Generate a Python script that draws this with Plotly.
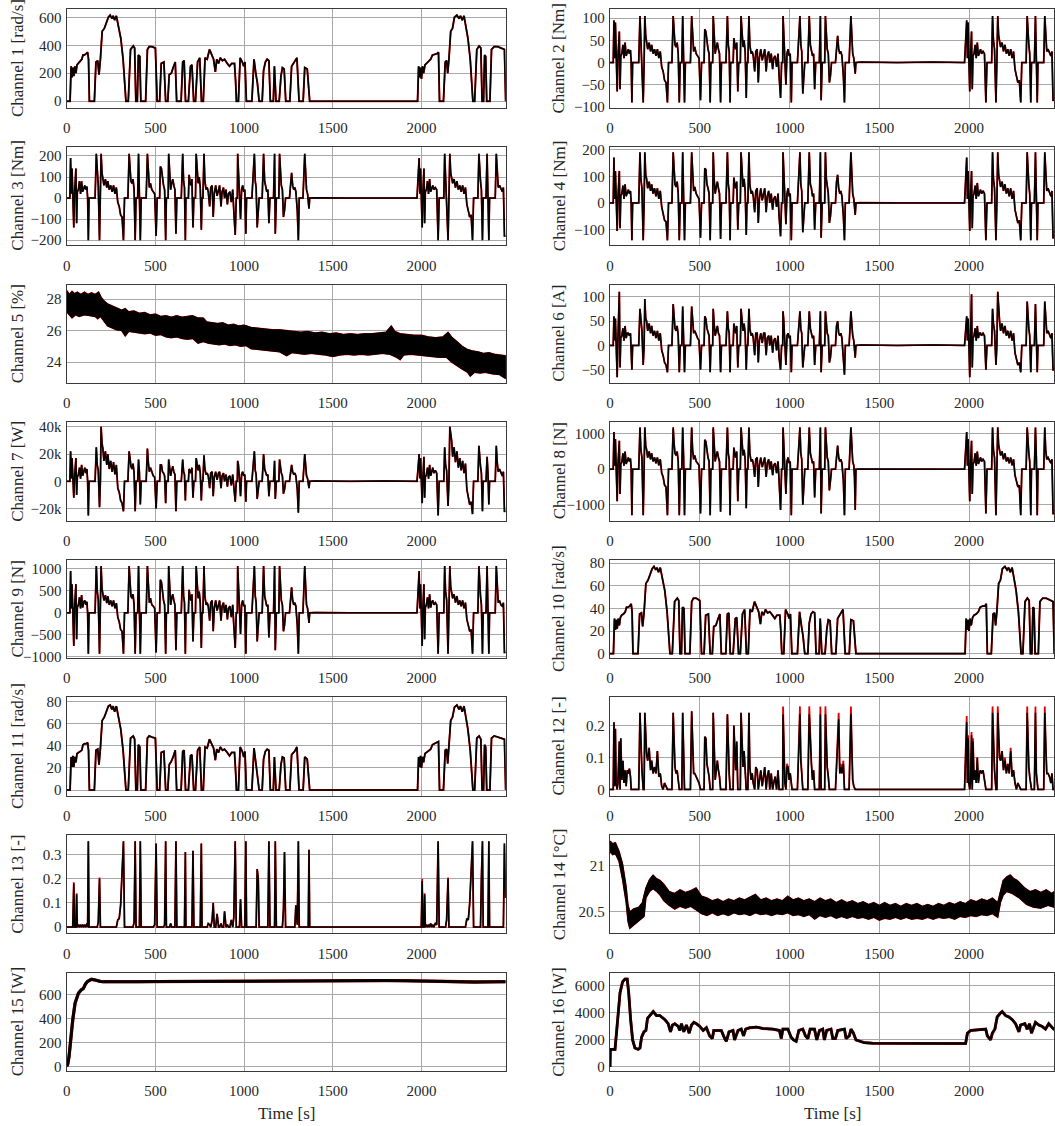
import plotly.graph_objects as go

# ---------------- shared time grid for torque/force-like channels ----------------
t_trq = [
    0, 18,
    22, 26, 30, 34, 40, 44, 52, 56, 60, 66, 72, 78, 84, 90, 96, 102, 108, 114, 118, 122, 126,
    160,
    167, 172, 178, 185, 190, 194, 199, 204, 210, 218, 226, 232, 240, 248, 256, 264, 272, 280, 288, 296, 304, 312, 320, 326,
    345,
    352, 357, 362, 368, 374, 380, 386, 391,
    400, 405, 410, 415, 420,
    448,
    455, 460, 466, 472, 480, 488, 496, 504, 510,
    524,
    528, 534, 540, 546, 552, 558, 562,
    572,
    575, 580, 586, 592, 598, 604, 610, 616, 621,
    646,
    654, 659, 664, 669, 672,
    686,
    690, 695, 700, 706, 712, 717,
    726,
    730, 735, 741, 747, 753, 759, 763,
    768,
    774, 779, 786, 792, 798, 806, 812, 820, 826, 832, 840, 848, 856, 862, 870, 876, 884, 890, 898, 906, 912, 920, 928, 936, 942, 950, 956,
    962,
    964, 968, 974, 980, 986, 992, 998, 1004, 1010, 1014,
    1044,
    1058, 1063, 1068, 1074, 1080, 1085,
    1102,
    1110, 1116, 1122, 1128, 1134, 1140, 1146,
    1166,
    1172, 1176, 1182,
    1196,
    1200, 1205, 1210, 1216, 1222, 1228, 1234,
    1256,
    1262, 1268, 1274, 1280, 1286, 1292, 1300, 1306, 1311,
    1332,
    1342, 1347, 1352, 1358, 1362, 1366, 1370,
    1400, 1600, 1800, 1975,
    1987, 1991, 1995, 1999, 2004, 2008, 2014, 2018, 2022, 2028, 2034, 2040, 2046, 2052, 2058, 2064, 2070, 2078, 2086, 2094, 2100,
    2126,
    2131, 2136, 2142, 2150, 2155, 2160, 2165, 2170, 2176, 2184, 2192, 2200, 2208, 2216, 2224, 2232, 2240, 2248, 2256, 2264, 2272, 2280, 2288, 2294,
    2318,
    2324, 2328, 2333, 2338, 2344, 2348,
    2364,
    2370, 2375, 2380, 2384,
    2416,
    2422, 2427, 2433, 2440, 2448, 2456, 2462, 2468, 2475,
]

ch2 = [
    0, 0,
    95, 10, 90, 20, -65, 10, 70, -60, 15, 20, 40, 10, 45, 15, 25, 30, 20, 28, 0, -90, 0,
    0,
    105, 50, 30, -90, 0, 105, 60, 50, 30, 45, 25, 40, 20, 30, 15, 30, 10, 25, -10, -20, -40, -45, -90, 0,
    0,
    105, 65, 40, 35, 45, 20, -90, 0,
    0, 105, 30, -90, 0,
    0,
    105, 50, 25, 35, 20, 15, 10, -85, 0,
    0,
    75, 70, 40, 30, 20, -90, 0,
    0,
    105, 50, 20, 35, 45, 30, 20, -90, 0,
    0,
    105, 40, 25, -90, 0,
    0,
    55, 40, 30, 45, -65, 0,
    0,
    105, 60, 35, 50, 25, -80, 0,
    0,
    105, 40, 20, 25, 15, -20, 25, 30, -45, 10, 30, 5, 25, 30, -20, 15, 25, 0, 20, -15, 10, 15, -10, 20, -30, -80, 0,
    0,
    105, 60, 10, -50, 20, 30, 15, 20, -90, 0,
    0,
    105, 40, 25, -70, -20, 0,
    0,
    105, 40, 30, 15, 20, -60, 0,
    0,
    105, -85, 0,
    0,
    105, 50, 30, 20, -45, -30, 0,
    0,
    45, 60, 30, 20, 25, 15, -30, -90, 0,
    0,
    105, 40, 20, 10, -20, -25, 0,
    1, 0, 1, 0,
    95, 10, 90, 10, -65, 10, 70, -60, 15, 20, 40, 10, 45, 15, 25, 30, 20, 25, 20, -90, 0,
    0,
    105, 50, 30, -90, 0, 105, 60, 50, 35, 45, 25, 40, 20, 30, 15, 30, 10, 25, -15, -30, -45, -40, -90, 0,
    0,
    105, 65, 40, 20, -90, 0,
    0,
    105, 30, -90, 0,
    0,
    105, 50, 25, 30, 20, 15, 25, -85, -85,
]

ch3 = [
    0, 0,
    190, 20, 140, 40, -140, 20, 140, -120, 30, 40, 80, 20, 80, 30, 50, 60, 40, 55, 0, -200, 0,
    0,
    210, 100, 60, -200, 0, 210, 120, 100, 60, 90, 50, 80, 40, 60, 30, 60, 20, 50, -20, -40, -80, -90, -200, 0,
    0,
    210, 130, 80, 70, 90, 40, -200, 0,
    0, 210, 60, -200, 0,
    0,
    210, 100, 50, 70, 40, 30, 20, -180, 0,
    0,
    150, 140, 80, 60, 40, -200, 0,
    0,
    210, 100, 40, 70, 90, 60, 40, -170, 0,
    0,
    210, 80, 50, -200, 0,
    0,
    110, 80, 60, 90, -140, 0,
    0,
    210, 120, 70, 100, 50, -150, 0,
    0,
    210, 80, 40, 50, 30, -40, 50, 60, -90, 20, 60, 10, 50, 60, -40, 30, 50, 0, 40, -30, 20, 30, -20, 40, -60, -175, 0,
    0,
    210, 120, 20, -100, 40, 60, 30, 40, -170, 0,
    0,
    210, 80, 50, -140, -40, 0,
    0,
    210, 80, 60, 30, 40, -120, 0,
    0,
    210, -170, 0,
    0,
    210, 100, 60, 40, -90, -60, 0,
    0,
    90, 120, 60, 40, 50, 30, -60, -200, 0,
    0,
    210, 80, 40, 20, -40, -50, 0,
    1, 0, 1, 0,
    190, 20, 140, 20, -140, 20, 140, -120, 30, 40, 80, 20, 90, 30, 50, 60, 40, 50, 40, -200, 0,
    0,
    210, 100, 60, -200, 0, 210, 120, 100, 70, 90, 50, 80, 40, 60, 30, 60, 20, 50, -30, -60, -90, -80, -200, 0,
    0,
    210, 130, 80, 40, -200, 0,
    0,
    210, 60, -200, 0,
    0,
    210, 100, 50, 60, 40, 30, 50, -180, -180,
]

ch4 = [
    0, 0,
    170, 15, 120, 35, -105, 15, 120, -95, 25, 35, 65, 15, 70, 25, 40, 50, 35, 45, 0, -140, 0,
    0,
    190, 90, 55, -140, 0, 190, 105, 90, 55, 80, 45, 70, 35, 55, 25, 55, 15, 45, -15, -35, -65, -70, -140, 0,
    0,
    190, 115, 70, 60, 80, 35, -140, 0,
    0, 190, 55, -140, 0,
    0,
    190, 90, 45, 60, 35, 25, 15, -130, 0,
    0,
    130, 125, 70, 55, 35, -140, 0,
    0,
    190, 90, 35, 60, 80, 55, 35, -135, 0,
    0,
    190, 70, 45, -140, 0,
    0,
    95, 70, 55, 80, -100, 0,
    0,
    190, 105, 60, 90, 45, -120, 0,
    0,
    190, 70, 35, 45, 25, -35, 45, 55, -75, 15, 55, 10, 45, 55, -35, 25, 45, 0, 35, -25, 15, 25, -15, 35, -50, -125, 0,
    0,
    190, 105, 15, -80, 35, 55, 25, 35, -140, 0,
    0,
    190, 70, 45, -110, -35, 0,
    0,
    190, 70, 55, 25, 35, -100, 0,
    0,
    190, -130, 0,
    0,
    190, 90, 55, 35, -75, -50, 0,
    0,
    80, 105, 55, 35, 45, 25, -50, -140, 0,
    0,
    190, 70, 35, 15, -35, -45, 0,
    1, 0, 1, 0,
    170, 15, 120, 15, -105, 15, 120, -95, 25, 35, 65, 15, 75, 25, 40, 50, 35, 45, 35, -140, 0,
    0,
    190, 90, 55, -140, 0, 190, 105, 90, 60, 80, 45, 70, 35, 55, 25, 55, 15, 45, -25, -50, -75, -65, -140, 0,
    0,
    190, 115, 70, 35, -140, 0,
    0,
    190, 55, -140, 0,
    0,
    190, 90, 45, 55, 35, 25, 45, -130, -130,
]

ch6 = [
    0, 0,
    60, 10, 55, 15, -65, 10, 110, -45, 15, 20, 35, 10, 40, 15, 25, 25, 20, 25, 0, -50, 0,
    0,
    75, 45, 30, -40, 0, 95, 55, 50, 30, 45, 25, 40, 20, 30, 15, 30, 10, 25, -10, -20, -35, -40, -55, 0,
    0,
    85, 55, 35, 30, 40, 20, -55, 0,
    0, 80, 30, -55, 0,
    0,
    80, 45, 25, 30, 20, 15, 10, -50, 0,
    0,
    60, 55, 35, 25, 20, -55, 0,
    0,
    75, 45, 20, 30, 40, 25, 20, -55, 0,
    0,
    70, 35, 25, -55, 0,
    0,
    45, 35, 25, 40, -45, 0,
    0,
    75, 50, 30, 45, 25, -50, 0,
    0,
    75, 35, 20, 25, 15, -20, 25, 25, -35, 10, 25, 5, 25, 25, -20, 15, 20, 0, 20, -15, 10, 15, -10, 20, -25, -50, 0,
    0,
    70, 50, 10, -40, 20, 25, 15, 20, -55, 0,
    0,
    70, 35, 25, -45, -20, 0,
    0,
    70, 35, 25, 15, 20, -40, 0,
    0,
    70, -55, 0,
    0,
    70, 45, 25, 20, -35, -25, 0,
    0,
    40, 50, 25, 20, 25, 15, -25, -60, 0,
    0,
    70, 35, 20, 10, -20, -25, 0,
    1, 0, 1, 0,
    60, 10, 55, 10, -65, 10, 105, -45, 15, 20, 35, 10, 40, 15, 25, 25, 20, 25, 20, -50, 0,
    0,
    75, 45, 30, -40, 0, 110, 60, 50, 30, 45, 25, 40, 20, 30, 15, 30, 10, 25, -15, -25, -40, -35, -55, 0,
    0,
    90, 55, 35, 20, -55, 0,
    0,
    85, 30, -55, 0,
    0,
    90, 45, 25, 30, 20, 15, 25, -50, -50,
]

ch7 = [
    0, 0,
    22000, 2000, 17000, 4000, -12000, 2000, 17000, -10000, 3000, 5000, 10000, 2000, 12000, 4000, 8000, 10000, 6000, 9000, 0, -25000, 0,
    0,
    25000, 12000, 8000, -19000, 0, 40000, 28000, 24000, 15000, 22000, 12000, 20000, 9000, 15000, 7000, 14000, 5000, 12000, -5000, -8000, -14000, -16000, -22000, 0,
    0,
    22000, 17000, 11000, 9000, 13000, 6000, -22000, 0,
    0, 16000, 6000, -17000, 0,
    0,
    24000, 14000, 7000, 10000, 6000, 4000, 3000, -20000, 0,
    0,
    12000, 12000, 7000, 6000, 4000, -16000, 0,
    0,
    16000, 10000, 4000, 8000, 11000, 7000, 5000, -22000, 0,
    0,
    16000, 7000, 5000, -14000, 0,
    0,
    9000, 8000, 6000, 10000, -12000, 0,
    0,
    17000, 12000, 8000, 12000, 6000, -14000, 0,
    0,
    19000, 9000, 5000, 6000, 4000, -5000, 6000, 7000, -11000, 3000, 7000, 1000, 6000, 7000, -5000, 4000, 6000, 0, 5000, -4000, 3000, 4000, -3000, 5000, -7000, -15000, 0,
    0,
    15000, 12000, 2000, -11000, 5000, 7000, 4000, 5000, -15000, 0,
    0,
    22000, 8000, 5000, -13000, -4000, 0,
    0,
    20000, 9000, 7000, 4000, 5000, -11000, 0,
    0,
    15000, -13000, 0,
    0,
    16000, 10000, 6000, 4000, -9000, -6000, 0,
    0,
    9000, 12000, 7000, 5000, 6000, 4000, -6000, -23000, 0,
    0,
    20000, 8000, 4000, 2000, -4000, -5000, 0,
    300, 0, 300, 0,
    20000, 2000, 17000, 2000, -16000, 2000, 18000, -12000, 3000, 5000, 10000, 2000, 12000, 4000, 8000, 10000, 6000, 8000, 6000, -25000, 0,
    0,
    25000, 12000, 8000, -18000, 0, 40000, 35000, 30000, 18000, 25000, 14000, 22000, 10000, 17000, 8000, 15000, 6000, 13000, -6000, -12000, -17000, -15000, -24000, 0,
    0,
    26000, 17000, 11000, 6000, -22000, 0,
    0,
    18000, 6000, -17000, 0,
    0,
    26000, 14000, 7000, 9000, 6000, 4000, 7000, -22000, -22000,
]

ch8 = [
    0, 0,
    1050, 100, 850, 200, -900, 100, 800, -700, 150, 200, 450, 100, 500, 150, 280, 330, 220, 300, 0, -1300, 0,
    0,
    1180, 550, 330, -1300, 0, 1180, 650, 550, 330, 500, 280, 450, 220, 330, 170, 330, 110, 280, -110, -220, -450, -500, -1300, 0,
    0,
    1180, 720, 450, 390, 500, 220, -1300, 0,
    0, 1180, 330, -1300, 0,
    0,
    1180, 550, 280, 390, 220, 170, 110, -1250, 0,
    0,
    830, 780, 450, 330, 220, -1300, 0,
    0,
    1180, 550, 220, 390, 500, 330, 220, -1200, 0,
    0,
    1180, 450, 280, -1300, 0,
    0,
    610, 450, 330, 500, -900, 0,
    0,
    1180, 670, 390, 550, 280, -1100, 0,
    0,
    1180, 450, 220, 280, 170, -220, 280, 330, -500, 110, 330, 60, 280, 330, -220, 170, 280, 0, 220, -170, 110, 170, -110, 220, -330, -1150, 0,
    0,
    1180, 670, 110, -700, 220, 330, 170, 220, -1300, 0,
    0,
    1180, 450, 280, -1000, -220, 0,
    0,
    1180, 450, 330, 170, 220, -800, 0,
    0,
    1180, -1250, 0,
    0,
    1180, 550, 330, 220, -600, -330, 0,
    0,
    500, 670, 330, 220, 280, 170, -330, -1300, 0,
    0,
    1180, 450, 220, 110, -220, -1150, 0,
    5, 0, 5, 0,
    1050, 100, 850, 100, -900, 100, 800, -700, 150, 200, 450, 100, 500, 150, 280, 330, 220, 280, 220, -1250, 0,
    0,
    1180, 550, 330, -1300, 0, 1180, 670, 550, 390, 500, 280, 450, 220, 330, 170, 330, 110, 280, -170, -330, -500, -450, -1300, 0,
    0,
    1180, 720, 450, 220, -1300, 0,
    0,
    1180, 330, -1300, 0,
    0,
    1180, 550, 280, 330, 220, 170, 280, -1250, -1250,
]

ch9 = [
    0, 0,
    950, 100, 650, 150, -750, 100, 650, -600, 120, 180, 350, 100, 400, 120, 250, 280, 180, 250, 0, -930, 0,
    0,
    1060, 500, 300, -930, 0, 1060, 550, 450, 280, 400, 220, 380, 180, 280, 150, 280, 100, 220, -100, -200, -380, -420, -930, 0,
    0,
    1060, 620, 380, 330, 420, 180, -930, 0,
    0, 1060, 280, -930, 0,
    0,
    1060, 480, 230, 330, 180, 150, 100, -900, 0,
    0,
    750, 700, 380, 280, 180, -930, 0,
    0,
    1060, 480, 180, 330, 420, 280, 180, -850, 0,
    0,
    1060, 380, 230, -930, 0,
    0,
    520, 380, 280, 420, -650, 0,
    0,
    1060, 580, 330, 480, 230, -800, 0,
    0,
    1060, 380, 180, 230, 150, -180, 230, 280, -420, 100, 280, 50, 230, 280, -180, 150, 230, 0, 180, -150, 100, 150, -100, 180, -280, -800, 0,
    0,
    1060, 580, 100, -480, 180, 280, 150, 180, -930, 0,
    0,
    1060, 380, 230, -650, -180, 0,
    0,
    1060, 380, 280, 150, 180, -560, 0,
    0,
    1060, -850, 0,
    0,
    1060, 480, 280, 180, -420, -280, 0,
    0,
    420, 580, 280, 180, 230, 150, -280, -930, 0,
    0,
    1060, 380, 180, 100, -180, -230, 0,
    5, 0, 5, 0,
    950, 100, 650, 100, -750, 100, 650, -600, 120, 180, 350, 100, 420, 120, 250, 280, 180, 230, 180, -930, 0,
    0,
    1060, 480, 300, -930, 0, 1060, 580, 480, 330, 420, 230, 380, 180, 280, 150, 280, 100, 230, -150, -280, -420, -380, -930, 0,
    0,
    1060, 620, 380, 180, -930, 0,
    0,
    1060, 280, -930, 0,
    0,
    1060, 480, 230, 280, 180, 150, 230, -900, -900,
]

ch12 = [
    0, 0,
    0.21, 0.01, 0.19, 0.02, 0, 0.02, 0.15, 0, 0.16, 0.03, 0.09, 0.02, 0.06, 0.01, 0.06, 0.05, 0.065, 0.04, 0, 0, 0,
    0,
    0.24, 0.11, 0.06, 0, 0, 0.24, 0.16, 0.11, 0.09, 0.13, 0.06, 0.09, 0.05, 0.07, 0.05, 0.12, 0.04, 0.05, 0.01, 0, 0.02, 0.01, 0, 0,
    0,
    0.24, 0.12, 0.07, 0.05, 0.06, 0.03, 0, 0,
    0, 0.24, 0.05, 0, 0,
    0,
    0.245, 0.15, 0.05, 0.05, 0.04, 0.03, 0.02, 0, 0,
    0,
    0.165, 0.16, 0.08, 0.06, 0.04, 0, 0,
    0,
    0.24, 0.12, 0.03, 0.06, 0.09, 0.06, 0.04, 0, 0,
    0,
    0.235, 0.09, 0.05, 0, 0,
    0,
    0.2, 0.09, 0.06, 0.15, 0, 0,
    0,
    0.24, 0.16, 0.07, 0.12, 0.05, 0, 0,
    0,
    0.24, 0.07, 0.03, 0.05, 0.02, 0, 0.07, 0.06, 0, 0.02, 0.06, 0.01, 0.05, 0.07, 0, 0.04, 0.06, 0, 0.05, 0, 0.02, 0.04, 0, 0.06, 0, 0, 0,
    0,
    0.235, 0.14, 0.02, 0, 0.07, 0.07, 0.03, 0.05, 0, 0,
    0,
    0.235, 0.09, 0.05, 0, 0, 0,
    0,
    0.235, 0.12, 0.08, 0.03, 0.06, 0, 0,
    0,
    0.235, 0, 0,
    0,
    0.235, 0.13, 0.07, 0.04, 0, 0, 0,
    0,
    0.07, 0.16, 0.22, 0.05, 0.07, 0.05, 0.08, 0, 0,
    0,
    0.235, 0.07, 0.03, 0.01, 0, 0, 0,
    0, 0, 0, 0,
    0.21, 0.02, 0.16, 0.02, 0, 0.02, 0.17, 0, 0.15, 0.03, 0.06, 0.02, 0.1, 0.02, 0.05, 0.06, 0.05, 0.06, 0.03, 0, 0,
    0,
    0.24, 0.12, 0.06, 0, 0, 0.24, 0.16, 0.1, 0.09, 0.12, 0.06, 0.09, 0.05, 0.08, 0.05, 0.12, 0.04, 0.06, 0.02, 0, 0.02, 0.01, 0, 0,
    0,
    0.24, 0.14, 0.07, 0.04, 0, 0,
    0,
    0.24, 0.05, 0, 0,
    0,
    0.24, 0.15, 0.05, 0.05, 0.04, 0.02, 0.05, 0, 0,
]

ch12_red = [
    0, 0,
    0.21, 0.01, 0.19, 0.02, 0, 0.02, 0.15, 0, 0.16, 0.03, 0.09, 0.02, 0.06, 0.01, 0.06, 0.05, 0.065, 0.04, 0, 0, 0,
    0,
    0.24, 0.11, 0.06, 0, 0, 0.24, 0.16, 0.11, 0.09, 0.13, 0.06, 0.09, 0.05, 0.07, 0.05, 0.12, 0.04, 0.05, 0.01, 0, 0.02, 0.01, 0, 0,
    0,
    0.24, 0.12, 0.07, 0.05, 0.06, 0.03, 0, 0,
    0, 0.24, 0.05, 0, 0,
    0,
    0.245, 0.15, 0.05, 0.05, 0.04, 0.03, 0.02, 0, 0,
    0,
    0.165, 0.16, 0.08, 0.06, 0.04, 0, 0,
    0,
    0.24, 0.12, 0.03, 0.06, 0.09, 0.06, 0.04, 0, 0,
    0,
    0.235, 0.09, 0.05, 0, 0,
    0,
    0.2, 0.09, 0.06, 0.15, 0, 0,
    0,
    0.24, 0.16, 0.07, 0.12, 0.05, 0, 0,
    0,
    0.24, 0.07, 0.03, 0.05, 0.02, 0, 0.07, 0.06, 0, 0.02, 0.06, 0.01, 0.05, 0.07, 0, 0.04, 0.06, 0, 0.05, 0, 0.02, 0.04, 0, 0.06, 0, 0, 0,
    0,
    0.26, 0.15, 0.02, 0, 0.08, 0.07, 0.03, 0.05, 0, 0,
    0,
    0.26, 0.1, 0.05, 0, 0, 0,
    0,
    0.26, 0.13, 0.08, 0.03, 0.06, 0, 0,
    0,
    0.26, 0, 0,
    0,
    0.26, 0.14, 0.07, 0.04, 0, 0, 0,
    0,
    0.08, 0.18, 0.24, 0.05, 0.08, 0.05, 0.09, 0, 0,
    0,
    0.26, 0.07, 0.03, 0.01, 0, 0, 0,
    0, 0, 0, 0,
    0.23, 0.02, 0.17, 0.02, 0, 0.02, 0.18, 0, 0.16, 0.03, 0.06, 0.02, 0.1, 0.02, 0.05, 0.06, 0.05, 0.06, 0.03, 0, 0,
    0,
    0.26, 0.13, 0.06, 0, 0, 0.26, 0.17, 0.1, 0.09, 0.12, 0.06, 0.1, 0.05, 0.08, 0.05, 0.13, 0.04, 0.06, 0.02, 0, 0.02, 0.01, 0, 0,
    0,
    0.26, 0.15, 0.07, 0.04, 0, 0,
    0,
    0.26, 0.05, 0, 0,
    0,
    0.26, 0.15, 0.05, 0.05, 0.04, 0.02, 0.05, 0, 0,
]

ch13 = [
    0, 0,
    0, 0, 0, 0, 0.18, 0, 0, 0.135, 0, 0.01, 0, 0.01, 0, 0.01, 0, 0.01, 0, 0.015, 0, 0.355, 0,
    0,
    0, 0, 0.02, 0.2, 0, 0, 0, 0, 0, 0, 0, 0, 0, 0, 0, 0, 0, 0, 0.03, 0.035, 0.09, 0.2, 0.355, 0,
    0,
    0, 0, 0, 0, 0, 0.02, 0.355, 0,
    0, 0, 0, 0.355, 0,
    0,
    0, 0, 0, 0, 0, 0, 0.01, 0.345, 0,
    0,
    0, 0, 0, 0, 0.01, 0.355, 0,
    0,
    0, 0, 0.015, 0, 0, 0, 0, 0.355, 0,
    0,
    0, 0, 0, 0.31, 0,
    0,
    0, 0, 0, 0, 0.315, 0,
    0,
    0, 0, 0, 0, 0, 0.345, 0,
    0,
    0, 0, 0, 0, 0.015, 0.01, 0, 0.03, 0.1, 0, 0, 0.055, 0, 0, 0.015, 0, 0, 0.065, 0, 0.01, 0, 0, 0.03, 0, 0.04, 0.355, 0,
    0,
    0, 0, 0, 0.115, 0, 0, 0, 0, 0.355, 0,
    0,
    0, 0, 0, 0.24, 0.2, 0,
    0,
    0, 0, 0, 0, 0, 0.355, 0,
    0,
    0, 0.355, 0,
    0,
    0, 0, 0, 0, 0.07, 0.31, 0,
    0,
    0, 0, 0, 0, 0, 0.09, 0.01, 0.355, 0,
    0,
    0, 0, 0, 0, 0, 0.32, 0,
    0, 0, 0, 0,
    0, 0, 0, 0, 0.19, 0, 0, 0.135, 0, 0.01, 0, 0.01, 0, 0.015, 0, 0.01, 0, 0.015, 0.01, 0.355, 0,
    0,
    0, 0, 0.03, 0.2, 0, 0, 0, 0, 0, 0, 0, 0, 0, 0, 0, 0, 0, 0, 0.035, 0.03, 0.095, 0.2, 0.355, 0,
    0,
    0, 0, 0, 0.2, 0.355, 0,
    0,
    0, 0, 0.355, 0,
    0,
    0, 0, 0, 0, 0, 0, 0, 0.345, 0.12,
]

ch13_red = [
    0, 0,
    0, 0, 0, 0, 0.185, 0, 0, 0.14, 0, 0.01, 0, 0.01, 0, 0.01, 0, 0.01, 0, 0.015, 0, 0.355, 0,
    0,
    0, 0, 0.02, 0.205, 0, 0, 0, 0, 0, 0, 0, 0, 0, 0, 0, 0, 0, 0, 0.03, 0.035, 0.09, 0.2, 0.355, 0,
    0,
    0, 0, 0, 0, 0, 0.02, 0.355, 0,
    0, 0, 0, 0.355, 0,
    0,
    0, 0, 0, 0, 0, 0, 0.01, 0.345, 0,
    0,
    0, 0, 0, 0, 0.01, 0.355, 0,
    0,
    0, 0, 0.015, 0, 0, 0, 0, 0.355, 0,
    0,
    0, 0, 0, 0.31, 0,
    0,
    0, 0, 0, 0, 0.315, 0,
    0,
    0, 0, 0, 0, 0, 0.345, 0,
    0,
    0, 0, 0, 0, 0.015, 0.01, 0, 0.03, 0.1, 0, 0, 0.055, 0, 0, 0.015, 0, 0, 0.065, 0, 0.01, 0, 0, 0.03, 0, 0.04, 0.355, 0,
    0,
    0, 0, 0, 0.115, 0, 0, 0, 0, 0.355, 0,
    0,
    0, 0, 0, 0.24, 0.2, 0,
    0,
    0, 0, 0, 0, 0, 0.355, 0,
    0,
    0, 0.355, 0,
    0,
    0, 0, 0, 0, 0.07, 0.31, 0,
    0,
    0, 0, 0, 0, 0, 0.09, 0.01, 0.355, 0,
    0,
    0, 0, 0, 0, 0, 0.32, 0,
    0, 0, 0, 0,
    0, 0, 0, 0, 0.2, 0, 0, 0.14, 0, 0.01, 0, 0.01, 0, 0.015, 0, 0.01, 0, 0.015, 0.01, 0.355, 0,
    0,
    0, 0, 0.03, 0.205, 0, 0, 0, 0, 0, 0, 0, 0, 0, 0, 0, 0, 0, 0, 0.035, 0.03, 0.1, 0.205, 0.355, 0,
    0,
    0, 0, 0, 0.205, 0.355, 0,
    0,
    0, 0, 0.355, 0,
    0,
    0, 0, 0, 0, 0, 0, 0, 0.345, 0.12,
]

# ---------------- speed channels ----------------
t_spd = [
    0, 19, 25, 30, 35, 40, 46, 52, 58, 65, 75, 85, 92, 100, 110, 118, 123, 128,
    156, 165, 175, 182, 190, 200, 212, 225, 235, 245, 255, 262, 270, 280, 292, 305, 318, 334,
    347, 360, 375, 383, 390,
    398, 404, 412, 418,
    445, 455, 465, 480, 500, 510,
    524, 533, 548, 558,
    570, 578, 590, 600, 612, 620,
    645, 654, 662, 670,
    686, 698, 706, 716,
    726, 738, 750, 760,
    770, 780, 792, 805, 815, 828, 838, 846, 856, 866, 878, 890, 905, 918, 930, 946, 952, 957,
    968, 978, 990, 998, 1005, 1013,
    1044, 1056, 1066, 1075, 1085,
    1102, 1110, 1120, 1130, 1140, 1148,
    1165, 1171, 1180,
    1198, 1208, 1216, 1226, 1235,
    1258, 1268, 1285, 1298, 1310,
    1333, 1342, 1356, 1370,
    1978, 1984, 1990, 1995, 2000, 2006, 2012, 2020, 2028, 2040, 2052, 2062, 2075, 2088, 2096, 2102,
    2124, 2134, 2142, 2148, 2155, 2165, 2175, 2186, 2200, 2212, 2220, 2230, 2240, 2250, 2262, 2275, 2290,
    2300, 2312, 2325, 2335, 2342,
    2350, 2356, 2362, 2368,
    2386, 2395, 2410, 2430, 2455, 2468, 2475,
]

ch1 = [
    0, 0, 250, 170, 240, 180, 250, 200, 260, 270, 280, 300, 330, 330, 340, 350, 300, 0,
    0, 280, 290, 190, 300, 500, 520, 560, 600, 615, 590, 610, 580, 610, 540, 450, 300, 0,
    0, 370, 395, 380, 0,
    0, 330, 320, 0,
    0, 370, 390, 390, 380, 0,
    0, 270, 280, 0,
    0, 190, 200, 240, 280, 0,
    0, 280, 290, 0,
    0, 250, 260, 0,
    0, 280, 310, 0,
    0, 310, 300, 370, 340, 300, 210, 300, 270, 310, 290, 300, 270, 250, 270, 270, 150, 0,
    0, 310, 280, 250, 280, 0,
    0, 300, 200, 130, 0,
    0, 220, 280, 300, 290, 0,
    0, 250, 0,
    0, 180, 240, 230, 0,
    0, 250, 280, 310, 0,
    0, 240, 230, 0,
    0, 250, 170, 240, 160, 250, 200, 260, 270, 280, 300, 330, 335, 340, 350, 0,
    0, 280, 290, 200, 300, 500, 520, 600, 615, 590, 610, 580, 610, 540, 450, 300, 0,
    0, 370, 395, 380, 0,
    0, 330, 320, 0,
    0, 370, 390, 390, 380, 370, 0,
]

ch10 = [
    0, 0, 31, 21, 30, 22, 31, 25, 32, 34, 35, 37, 41, 41, 42, 44, 37, 0,
    0, 35, 36, 24, 37, 62, 65, 70, 75, 77, 74, 76, 72, 76, 67, 56, 37, 0,
    0, 46, 49, 47, 0,
    0, 41, 40, 0,
    0, 46, 49, 49, 47, 0,
    0, 34, 35, 0,
    0, 24, 25, 30, 35, 0,
    0, 35, 36, 0,
    0, 31, 32, 0,
    0, 35, 39, 0,
    0, 39, 37, 46, 42, 37, 26, 37, 34, 39, 36, 37, 34, 31, 34, 34, 19, 0,
    0, 39, 35, 31, 35, 0,
    0, 37, 25, 16, 0,
    0, 27, 35, 37, 36, 0,
    0, 31, 0,
    0, 22, 30, 29, 0,
    0, 31, 35, 39, 0,
    0, 30, 29, 0,
    0, 31, 21, 30, 20, 31, 25, 32, 34, 35, 37, 41, 42, 42, 44, 0,
    0, 35, 36, 25, 37, 62, 65, 75, 77, 74, 76, 72, 76, 67, 56, 37, 0,
    0, 46, 49, 47, 0,
    0, 41, 40, 0,
    0, 46, 49, 49, 47, 46, 0,
]

ch11 = [
    0, 0, 30, 21, 31, 21, 30, 25, 33, 34, 35, 36, 41, 42, 42, 43, 36, 0,
    0, 36, 37, 23, 38, 63, 66, 71, 76, 77, 73, 76, 71, 76, 66, 55, 36, 0,
    0, 47, 49, 46, 0,
    0, 41, 39, 0,
    0, 47, 49, 48, 47, 0,
    0, 34, 35, 0,
    0, 23, 26, 30, 36, 0,
    0, 35, 36, 0,
    0, 31, 32, 0,
    0, 36, 39, 0,
    0, 39, 38, 46, 42, 38, 27, 37, 34, 39, 36, 37, 34, 31, 34, 34, 18, 0,
    0, 39, 35, 30, 35, 0,
    0, 38, 25, 15, 0,
    0, 28, 35, 37, 36, 0,
    0, 30, 0,
    0, 23, 30, 29, 0,
    0, 32, 35, 39, 0,
    0, 30, 28, 0,
    0, 30, 21, 31, 20, 30, 25, 33, 34, 35, 37, 41, 42, 43, 44, 0,
    0, 36, 37, 24, 38, 63, 66, 75, 77, 73, 76, 71, 76, 66, 55, 36, 0,
    0, 47, 49, 46, 0,
    0, 41, 39, 0,
    0, 47, 49, 48, 47, 46, 0,
]

# ---------------- channel 5: noisy band (upper / lower envelope) ----------------
ch5_up_t = [0, 15, 30, 45, 60, 80, 100, 120, 140, 160, 180, 195, 210, 230, 250, 270, 290, 310, 330, 350,
            380, 410, 440, 470, 500, 530, 560, 590, 620, 650, 680, 710, 740, 770, 790, 820, 850, 880, 910, 940,
            970, 1000, 1040, 1080, 1120, 1160, 1200, 1240, 1280, 1320, 1360, 1400, 1440, 1480, 1520, 1560, 1600,
            1640, 1680, 1720, 1760, 1800, 1830, 1850, 1880, 1920, 1960, 2000, 2040, 2080, 2120, 2150, 2170, 2200,
            2230, 2260, 2290, 2320, 2350, 2380, 2410, 2440, 2475]
ch5_up_v = [28.55, 28.3, 28.5, 28.35, 28.45, 28.3, 28.45, 28.3, 28.4, 28.3, 28.45, 28.1, 27.9, 27.7, 27.6, 27.5, 27.45, 27.3, 27.4, 27.2,
            27.25, 27.1, 27.15, 27.0, 27.05, 26.9, 26.95, 26.85, 26.95, 26.85, 26.9, 26.95, 26.8, 26.8, 26.55, 26.5, 26.45, 26.5, 26.35, 26.4,
            26.3, 26.35, 26.2, 26.15, 26.1, 26.05, 26.05, 26.0, 25.95, 25.9, 25.95, 25.85, 25.9, 25.8, 25.85, 25.75, 25.8,
            25.75, 25.8, 25.8, 25.85, 25.9, 26.3, 25.95, 25.8, 25.75, 25.7, 25.7, 25.6, 25.55, 25.6, 25.9, 25.6, 25.3,
            25.0, 24.8, 24.7, 24.65, 24.55, 24.6, 24.5, 24.45, 24.4]
ch5_lo_t = [0, 15, 30, 50, 70, 100, 130, 160, 175, 190, 210, 230, 250, 280, 310, 330, 350, 380, 410, 440,
            470, 500, 530, 560, 590, 620, 650, 680, 710, 740, 770, 800, 830, 860, 890, 920, 950, 980, 1010, 1040,
            1080, 1120, 1160, 1200, 1240, 1270, 1300, 1340, 1380, 1420, 1460, 1500, 1540, 1580, 1620, 1660, 1700,
            1740, 1780, 1820, 1860, 1880, 1900, 1940, 1980, 2020, 2060, 2100, 2140, 2170, 2200, 2230, 2260, 2275,
            2300, 2330, 2360, 2400, 2440, 2475]
ch5_lo_v = [27.2, 27.0, 26.8, 27.0, 26.9, 27.0, 26.95, 26.9, 26.75, 26.9, 26.6, 26.3, 26.2, 26.05, 26.0, 25.65, 25.95, 25.9, 25.85, 25.8,
            25.85, 25.7, 25.75, 25.6, 25.55, 25.6, 25.5, 25.45, 25.5, 25.2, 25.3, 25.2, 25.15, 25.1, 25.15, 25.05, 25.1, 25.0, 25.05, 24.85,
            24.8, 24.75, 24.7, 24.65, 24.4, 24.6, 24.55, 24.5, 24.55, 24.5, 24.45, 24.35, 24.45, 24.5, 24.45, 24.5, 24.45,
            24.5, 24.55, 24.5, 24.3, 24.15, 24.45, 24.5, 24.45, 24.4, 24.35, 24.3, 24.3, 24.0, 23.75, 23.55, 23.35, 23.1,
            23.35, 23.3, 23.35, 23.25, 23.2, 22.95]

# ---------------- channel 14: noisy band ----------------
ch14_up_t = [0, 15, 30, 50, 70, 90, 100, 110, 130, 160, 180, 200, 220, 240, 260, 280,
             300, 330, 360, 390, 420, 450, 480, 510, 540, 570, 600, 630, 660, 690, 720, 750, 780, 810, 840, 870,
             900, 930, 960, 990, 1020, 1050, 1080, 1110, 1140, 1170, 1200, 1230, 1260, 1290, 1320, 1350, 1380,
             1410, 1440, 1470, 1500, 1530, 1560, 1590, 1620, 1650, 1680, 1710, 1740, 1770, 1800, 1830, 1860,
             1890, 1920, 1950, 1980, 2010, 2040, 2070, 2100, 2130, 2160,
             2175, 2190, 2210, 2230, 2250, 2270, 2290, 2310, 2340, 2370, 2400, 2430, 2460, 2475]
ch14_up_v = [21.27, 21.24, 21.25, 21.16, 21.02, 20.77, 20.58, 20.5, 20.53, 20.55, 20.6, 20.76, 20.85, 20.9, 20.86, 20.84,
             20.8, 20.72, 20.7, 20.74, 20.71, 20.73, 20.76, 20.67, 20.65, 20.62, 20.64, 20.61, 20.64, 20.62, 20.65, 20.63, 20.66, 20.69, 20.63, 20.65,
             20.62, 20.64, 20.62, 20.67, 20.63, 20.65, 20.62, 20.64, 20.61, 20.65, 20.62, 20.64, 20.6, 20.63, 20.6, 20.62, 20.59,
             20.61, 20.58, 20.6, 20.57, 20.6, 20.57, 20.59, 20.56, 20.59, 20.57, 20.59, 20.56, 20.58, 20.56, 20.59, 20.57,
             20.6, 20.58, 20.61, 20.59, 20.63, 20.61, 20.64, 20.62, 20.65, 20.6,
             20.72, 20.84, 20.88, 20.9, 20.86, 20.84, 20.8, 20.76, 20.72, 20.74, 20.71, 20.74, 20.7, 20.72]
ch14_lo_t = [0, 15, 30, 50, 70, 90, 100, 110, 130, 160, 190, 200, 220, 240, 260, 280,
             300, 330, 360, 390, 420, 450, 480, 510, 540, 570, 600, 630, 660, 690, 720, 750, 780, 810, 840, 870,
             900, 930, 960, 990, 1020, 1050, 1080, 1110, 1140, 1170, 1200, 1230, 1260, 1290, 1320, 1350, 1380,
             1410, 1440, 1470, 1500, 1530, 1560, 1590, 1620, 1650, 1680, 1710, 1740, 1770, 1800, 1830, 1860,
             1890, 1920, 1950, 1980, 2010, 2040, 2070, 2100, 2130, 2160,
             2175, 2190, 2210, 2240, 2280, 2320, 2360, 2400, 2440, 2475]
ch14_lo_v = [21.15, 21.12, 21.13, 21.05, 20.85, 20.6, 20.4, 20.32, 20.35, 20.4, 20.45, 20.65, 20.72, 20.75, 20.72, 20.68,
             20.62, 20.57, 20.53, 20.56, 20.54, 20.56, 20.52, 20.48, 20.46, 20.49, 20.46, 20.48, 20.46, 20.49, 20.47, 20.48, 20.46, 20.49, 20.47, 20.48,
             20.46, 20.48, 20.47, 20.49, 20.46, 20.47, 20.45, 20.47, 20.42, 20.46, 20.44, 20.46, 20.43, 20.45, 20.43, 20.45, 20.43,
             20.44, 20.42, 20.44, 20.41, 20.43, 20.42, 20.44, 20.42, 20.44, 20.42, 20.43, 20.42, 20.44, 20.42, 20.44, 20.43,
             20.44, 20.42, 20.45, 20.44, 20.46, 20.45, 20.47, 20.46, 20.48, 20.44,
             20.6, 20.68, 20.72, 20.7, 20.65, 20.58, 20.55, 20.54, 20.57, 20.55]

# ---------------- channel 15 ----------------
t_ch15 = [0, 6, 13, 22, 34, 47, 66, 80, 94, 105, 116, 130, 141, 155, 169, 190, 206, 300, 400, 500, 600, 700, 800, 900,
          1000, 1100, 1200, 1300, 1400, 1500, 1600, 1700, 1800, 1900, 2000, 2100, 2200, 2300, 2400, 2475]
ch15 = [0, 20, 80, 220, 390, 530, 615, 640, 655, 690, 712, 725, 732, 728, 720, 714, 712, 710, 712, 713, 714, 713, 714, 713,
        716, 715, 716, 717, 718, 719, 720, 720, 721, 720, 716, 714, 712, 709, 711, 712]

# ---------------- channel 16 ----------------
t_ch16 = [0, 2, 28, 41, 56, 70, 83, 96, 104, 115, 126, 139, 157, 167, 176, 189, 200, 209, 222, 241, 259, 278, 287, 306,
          324, 337, 348, 361, 380, 389, 398, 411, 426, 441, 454, 467, 481, 500, 519, 537, 555, 570, 578, 620, 639,
          648, 663, 685, 694, 713, 731, 744, 756, 778, 815, 852, 907, 944, 954, 963, 991, 1009, 1022, 1037, 1052,
          1074, 1089, 1102, 1115, 1139, 1152, 1167, 1185, 1194, 1207, 1231, 1241, 1256, 1269, 1306, 1315, 1333,
          1343, 1356, 1370, 1389, 1417, 1463, 1600, 1800, 1981, 1991, 2009, 2093, 2102, 2120, 2130, 2144, 2157,
          2176, 2185, 2204, 2222, 2241, 2259, 2278, 2287, 2311, 2324, 2337, 2348, 2370, 2389, 2407, 2426, 2444, 2468, 2475]
ch16 = [0, 1300, 1300, 3500, 5500, 6300, 6500, 6500, 5500, 3500, 2000, 1400, 1300, 1400, 2200, 2600, 2700, 3600, 3800, 4100, 3800, 3800, 3700, 3500,
        3200, 2600, 3100, 3200, 3000, 2700, 3200, 2600, 3100, 2500, 3100, 3300, 3200, 3000, 2700, 2900, 2300, 2100, 2700, 2700, 2100,
        1900, 2600, 2700, 2000, 2700, 2800, 2300, 2800, 2900, 2950, 2850, 2800, 2700, 2100, 2800, 2800, 2200, 2000, 1900, 2700,
        2800, 2300, 2100, 2800, 2800, 2000, 2700, 2800, 2000, 2700, 2800, 2100, 2100, 2700, 2800, 2100, 2300,
        2800, 2500, 2000, 1900, 1800, 1750, 1740, 1750, 1740, 2500, 2700, 2800, 2300, 2000, 2500, 2800, 3700,
        4000, 4100, 3800, 3700, 3500, 3200, 2600, 3100, 3200, 2800, 3200, 2500, 3300, 3100, 3000, 2800, 3200, 2800, 2750]

# ---------------- axis specs ----------------
titles = ["Channel 1 [rad/s]", "Channel 2 [Nm]", "Channel 3 [Nm]", "Channel 4 [Nm]",
          "Channel 5 [%]", "Channel 6 [A]", "Channel 7 [W]", "Channel 8 [N]",
          "Channel 9 [N]", "Channel 10 [rad/s]", "Channel 11 [rad/s]", "Channel 12 [-]",
          "Channel 13 [-]", "Channel 14 [°C]", "Channel 15 [W]", "Channel 16 [W]"]
y_ranges = [[-47, 657], [-102, 120], [-225, 243], [-159, 210],
            [22.67, 28.93], [-77, 125], [-28800, 43400], [-1450, 1330],
            [-1030, 1205], [-4, 83], [-5.2, 84], [-0.02, 0.2885],
            [-0.026, 0.381], [20.266, 21.335], [-39, 789], [-300, 6990]]
y_ticks = [[0, 200, 400, 600], [-100, -50, 0, 50, 100], [-200, -100, 0, 100, 200], [-100, 0, 100, 200],
           [24, 26, 28], [-50, 0, 50, 100], [-20000, 0, 20000, 40000], [-1000, 0, 1000],
           [-1000, -500, 0, 500, 1000], [0, 20, 40, 60, 80], [0, 20, 40, 60, 80], [0, 0.1, 0.2],
           [0, 0.1, 0.2, 0.3], [20.5, 21], [0, 200, 400, 600], [0, 2000, 4000, 6000]]
y_ticktext = [["0", "200", "400", "600"], ["−100", "−50", "0", "50", "100"], ["−200", "−100", "0", "100", "200"],
              ["−100", "0", "100", "200"], ["24", "26", "28"], ["−50", "0", "50", "100"],
              ["−20k", "0", "20k", "40k"], ["−1000", "0", "1000"], ["−1000", "−500", "0", "500", "1000"],
              ["0", "20", "40", "60", "80"], ["0", "20", "40", "60", "80"], ["0", "0.1", "0.2"],
              ["0", "0.1", "0.2", "0.3"], ["20.5", "21"], ["0", "200", "400", "600"], ["0", "2000", "4000", "6000"]]
x_ticks = [0, 500, 1000, 1500, 2000]
x_range = [0, 2475]

for name, arr in [("ch2", ch2), ("ch3", ch3), ("ch4", ch4), ("ch6", ch6), ("ch7", ch7), ("ch8", ch8),
                  ("ch9", ch9), ("ch12", ch12), ("ch12_red", ch12_red), ("ch13", ch13), ("ch13_red", ch13_red)]:
    assert len(arr) == len(t_trq), (name, len(arr), len(t_trq))
for name, arr in [("ch1", ch1), ("ch10", ch10), ("ch11", ch11)]:
    assert len(arr) == len(t_spd), (name, len(arr), len(t_spd))
assert len(ch14_up_t) == len(ch14_up_v), (len(ch14_up_t), len(ch14_up_v))
assert len(ch14_lo_t) == len(ch14_lo_v), (len(ch14_lo_t), len(ch14_lo_v))
assert len(ch5_up_t) == len(ch5_up_v) and len(ch5_lo_t) == len(ch5_lo_v)

# ---------------- figure ----------------
W, H = 1055, 1126
FONT = "Liberation Serif"
RED = "#e00000"
BLK = "#000000"
TXT = "#262626"
fig = go.Figure()

line_series = {
    1: (t_spd, ch1, ch1, 1.6), 2: (t_trq, ch2, ch2, 1.5), 3: (t_trq, ch3, ch3, 1.5), 4: (t_trq, ch4, ch4, 1.5),
    6: (t_trq, ch6, ch6, 1.5), 7: (t_trq, ch7, ch7, 1.5), 8: (t_trq, ch8, ch8, 1.5), 9: (t_trq, ch9, ch9, 1.5),
    10: (t_spd, ch10, ch10, 1.6), 11: (t_spd, ch11, ch11, 1.6), 12: (t_trq, ch12, ch12_red, 1.5),
    13: (t_trq, ch13, ch13_red, 1.5), 15: (t_ch15, ch15, ch15, 3.0), 16: (t_ch16, ch16, ch16, 2.6),
}
bands = {5: (ch5_up_t, ch5_up_v, ch5_lo_t, ch5_lo_v), 14: (ch14_up_t, ch14_up_v, ch14_lo_t, ch14_lo_v)}

annotations = []
for k in range(1, 17):
    row = (k - 1) // 2
    col = (k - 1) % 2
    top_px = 9.3 + 137.6 * row
    bot_px = top_px + 98.5
    ydom = [1 - bot_px / H, 1 - top_px / H]
    xdom = [66.7 / W, 505.7 / W] if col == 0 else [610.0 / W, 1054.3 / W]
    xa, ya = f"x{k}", f"y{k}"
    if k in line_series:
        tx, yb, yr, lw = line_series[k]
        fig.add_trace(go.Scatter(x=tx, y=yr, mode="lines", xaxis=xa, yaxis=ya,
                                 line=dict(color=RED, width=lw + 0.3), showlegend=False, hoverinfo="skip"))
        fig.add_trace(go.Scatter(x=tx, y=yb, mode="lines", xaxis=xa, yaxis=ya,
                                 line=dict(color=BLK, width=lw), showlegend=False))
    else:
        ut, uv, lt, lv = bands[k]
        bx = ut + lt[::-1]
        by = uv + lv[::-1]
        fig.add_trace(go.Scatter(x=bx, y=by, mode="lines", xaxis=xa, yaxis=ya, fill="toself",
                                 fillcolor=BLK, line=dict(color=RED, width=1.4), showlegend=False, hoverinfo="skip"))
        fig.add_trace(go.Scatter(x=bx, y=by, mode="lines", xaxis=xa, yaxis=ya, fill="toself",
                                 fillcolor=BLK, line=dict(color=BLK, width=1.0), showlegend=False))
    axis_common = dict(showgrid=True, gridcolor="#a8a8a8", gridwidth=1, showline=True, mirror=True,
                       linecolor="#3a3a3a", linewidth=1.3, zeroline=False, automargin=False,
                       tickfont=dict(family=FONT, size=15, color=TXT))
    fig.layout[f"xaxis{k}"] = dict(domain=xdom, anchor=ya, range=x_range, tickvals=x_ticks,
                                   ticks="outside", ticklen=6, tickcolor="rgba(0,0,0,0)", **axis_common)
    fig.layout[f"yaxis{k}"] = dict(domain=ydom, anchor=xa, range=y_ranges[k - 1], tickvals=y_ticks[k - 1],
                                   ticktext=y_ticktext[k - 1], ticks="outside", ticklen=1,
                                   tickcolor="rgba(0,0,0,0)", **axis_common)
    tx_px = 17.5 if col == 0 else 559.0
    annotations.append(dict(text=titles[k - 1], xref="paper", yref="paper", x=tx_px / W,
                            y=(ydom[0] + ydom[1]) / 2, xanchor="center", yanchor="middle",
                            textangle=-90, showarrow=False, font=dict(family=FONT, size=17, color=TXT)))

for cx in (286.2, 832.0):
    annotations.append(dict(text="Time [s]", xref="paper", yref="paper", x=cx / W, y=1 - 1113 / H,
                            xanchor="center", yanchor="middle", showarrow=False,
                            font=dict(family=FONT, size=17, color=TXT)))

fig.update_layout(width=W, height=H, margin=dict(l=0, r=0, t=0, b=0, pad=0, autoexpand=False),
                  paper_bgcolor="white", plot_bgcolor="white", annotations=annotations, showlegend=False,
                  font=dict(family=FONT, size=15, color=TXT))
fig.write_html("out.html", config={"displayModeBar": False},
               post_script="document.body.style.margin='0';document.body.style.overflow='hidden';")
